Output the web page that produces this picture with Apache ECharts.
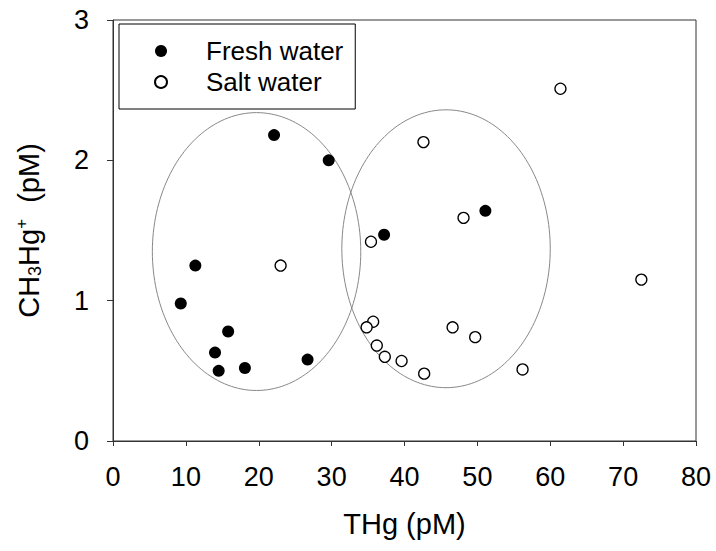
<!DOCTYPE html>
<html>
<head>
<meta charset="utf-8">
<script src="https://cdn.jsdelivr.net/npm/echarts@6/dist/echarts.min.js"></script>
<style>
html,body{margin:0;padding:0;background:#fff;}
#c{width:716px;height:551px;}
</style>
</head>
<body>
<div id="c"></div>
<script>
// THg (pM), CH3Hg+ (pM)
const freshTHg   = [22.1, 29.6, 11.3, 51.1, 37.2, 9.3, 15.8, 14.0, 14.5, 18.1, 26.7];
const freshMeHg  = [2.18, 2.00, 1.25, 1.64, 1.47, 0.98, 0.78, 0.63, 0.50, 0.52, 0.58];
const saltTHg    = [23.0, 61.4, 42.6, 48.1, 35.4, 72.5, 35.7, 34.8, 46.6, 49.7, 36.2, 37.3, 39.6, 42.7, 56.2];
const saltMeHg   = [1.25, 2.51, 2.13, 1.59, 1.42, 1.15, 0.85, 0.81, 0.81, 0.74, 0.68, 0.60, 0.57, 0.48, 0.51];
// grouping ellipses: centre x, centre y, radius x, radius y (data units)
const ellipseCx = [19.7, 45.7];
const ellipseCy = [1.35, 1.37];
const ellipseRx = [14.3, 14.3];
const ellipseRy = [0.99, 0.99];
const xTicks = [0, 80, 10];
const yTicks = [0, 3, 1];

const FONT = '"Liberation Sans", Arial, Helvetica, sans-serif';
const fresh = freshTHg.map((x, i) => [x, freshMeHg[i]]);
const salt = saltTHg.map((x, i) => [x, saltMeHg[i]]);
const ellipses = ellipseCx.map((c, i) => [c, ellipseCy[i], ellipseRx[i], ellipseRy[i]]);

const chart = echarts.init(document.getElementById('c'), null, {renderer: 'svg'});
chart.setOption({
  animation: false,
  backgroundColor: '#fff',
  grid: {left: 113, top: 20, right: 20, bottom: 110, show: true, borderColor: '#333', borderWidth: 1},
  legend: {
    orient: 'vertical',
    left: 119, top: 24,
    padding: [14, 12, 14, 35],
    itemGap: 5,
    itemWidth: 12, itemHeight: 12,
    borderColor: '#000', borderWidth: 1,
    data: ['Fresh water', 'Salt water'],
    textStyle: {fontFamily: FONT, fontSize: 26, color: '#000', lineHeight: 26, padding: [0, 0, 0, 34]}
  },
  xAxis: {
    type: 'value', min: xTicks[0], max: xTicks[1], interval: xTicks[2],
    name: 'THg (pM)', nameLocation: 'middle', nameGap: 68,
    nameTextStyle: {fontFamily: FONT, fontSize: 29, color: '#000'},
    axisLine: {lineStyle: {color: '#333', width: 1}},
    axisTick: {show: true, inside: false, length: 5, lineStyle: {color: '#333'}},
    axisLabel: {fontFamily: FONT, fontSize: 27, color: '#000', margin: 22},
    splitLine: {show: false}
  },
  yAxis: {
    type: 'value', min: yTicks[0], max: yTicks[1], interval: yTicks[2],
    name: '{a|CH}{s|3}{a|Hg}{p|+}{a|  (pM)}', nameLocation: 'middle', nameGap: 69, nameRotate: 90,
    nameTextStyle: {
      fontFamily: FONT, color: '#000',
      rich: {
        a: {fontFamily: FONT, fontSize: 29, lineHeight: 31, color: '#000'},
        s: {fontFamily: FONT, fontSize: 18, lineHeight: 18, verticalAlign: 'bottom', color: '#000'},
        p: {fontFamily: FONT, fontSize: 17, lineHeight: 17, verticalAlign: 'top', color: '#000'}
      }
    },
    axisLine: {lineStyle: {color: '#333', width: 1}},
    axisTick: {show: true, inside: false, length: 6, lineStyle: {color: '#333'}},
    axisLabel: {fontFamily: FONT, fontSize: 27, color: '#000', margin: 24},
    splitLine: {show: false}
  },
  series: [
    {
      type: 'custom', name: 'groups', z: 1, silent: true,
      data: ellipses,
      renderItem: function (params, api) {
        const cx = api.value(0), cy = api.value(1), rx = api.value(2), ry = api.value(3);
        const pts = [];
        for (let k = 0; k < 180; k++) {
          const t = k / 180 * Math.PI * 2;
          pts.push(api.coord([cx + rx * Math.cos(t), cy + ry * Math.sin(t)]));
        }
        return {type: 'polygon', shape: {points: pts}, style: {fill: 'none', stroke: '#888', lineWidth: 1}};
      }
    },
    {
      type: 'scatter', name: 'Fresh water', z: 3, data: fresh,
      symbol: 'circle', symbolSize: 12,
      itemStyle: {color: '#000', borderColor: '#000', borderWidth: 0, opacity: 1}
    },
    {
      type: 'scatter', name: 'Salt water', z: 3, data: salt,
      symbol: 'circle', symbolSize: 11,
      itemStyle: {color: '#fff', borderColor: '#000', borderWidth: 1.3, opacity: 1}
    }
  ]
});
</script>
</body>
</html>
